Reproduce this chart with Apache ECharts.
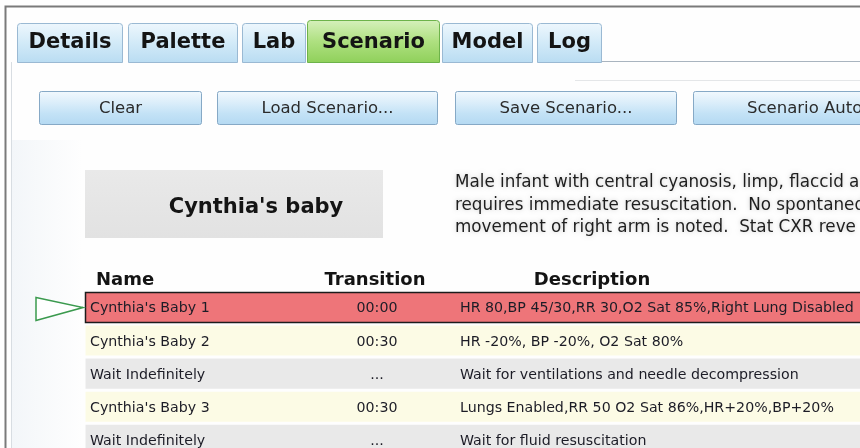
<!DOCTYPE html>
<html><head><meta charset="utf-8">
<script src="https://cdn.jsdelivr.net/npm/echarts@6/dist/echarts.min.js"></script>
<style>html,body{margin:0;padding:0;background:#fff}#c{width:860px;height:448px}</style>
</head><body><div id="c"></div>
<script>
// ---- content data ----
const tabLabels = ['Details', 'Palette', 'Lab', 'Scenario', 'Model', 'Log'];
const activeTab = 'Scenario';
const buttonLabels = ['Clear', 'Load Scenario...', 'Save Scenario...', 'Scenario Auto'];
const scenarioTitle = "Cynthia's baby";
const scenarioDescription = [
  'Male infant with central cyanosis, limp, flaccid a',
  'requires immediate resuscitation.  No spontaned',
  'movement of right arm is noted.  Stat CXR reve'
];
const columnHeaders = ['Name', 'Transition', 'Description'];
const stepNames = ["Cynthia's Baby 1", "Cynthia's Baby 2", 'Wait Indefinitely', "Cynthia's Baby 3", 'Wait Indefinitely'];
const stepTransitions = ['00:00', '00:30', '...', '00:30', '...'];
const stepDescriptions = [
  'HR 80,BP 45/30,RR 30,O2 Sat 85%,Right Lung Disabled',
  'HR -20%, BP -20%, O2 Sat 80%',
  'Wait for ventilations and needle decompression',
  'Lungs Enabled,RR 50 O2 Sat 86%,HR+20%,BP+20%',
  'Wait for fluid resuscitation'
];
const currentStep = 0;

// ---- layout (positions / styles only) ----
const tabSpans = [[17, 123], [128, 238], [242, 306], [307, 440], [442, 533], [537, 602]];
const buttonSpans = [[39, 202], [217, 438], [455, 677], [693, 900]];
const FONT = '"DejaVu Sans", Verdana, sans-serif';
const colName = 5, colTrans = 292, colDesc = 375;

const chart = echarts.init(document.getElementById('c'), null, {renderer: 'canvas'});

const lg = (stops) => new echarts.graphic.LinearGradient(0, 0, 0, 1, stops.map((c, i) => ({offset: i / (stops.length - 1), color: c})));

const graphics = [];
graphics.push({type: 'rect', shape: {x: 0, y: 0, width: 860, height: 448}, style: {fill: '#fefefe'}, z: -10, silent: true});
graphics.push({type: 'polyline', shape: {points: [[5.5, 448], [5.5, 6.5], [860, 6.5]]}, style: {stroke: '#7a7a7a', lineWidth: 2, fill: null}, z: 1});
graphics.push({type: 'line', shape: {x1: 11.5, y1: 62, x2: 11.5, y2: 448}, style: {stroke: '#d8dde2', lineWidth: 1}});
graphics.push({type: 'line', shape: {x1: 602, y1: 61.5, x2: 860, y2: 61.5}, style: {stroke: '#a9b4bf', lineWidth: 1}});
graphics.push({type: 'line', shape: {x1: 575, y1: 80.5, x2: 860, y2: 80.5}, style: {stroke: '#e4e6e8', lineWidth: 1}});
graphics.push({type: 'rect', shape: {x: 12, y: 140, width: 70, height: 308}, style: {fill: new echarts.graphic.LinearGradient(0, 0, 1, 0, [{offset: 0, color: '#f3f6f9'}, {offset: 1, color: '#fefefe'}])}, z: -5});

// tabs
tabLabels.forEach((t, i) => {
  const [a, b] = tabSpans[i];
  const active = t === activeTab;
  const top = active ? 20 : 23;
  graphics.push({
    type: 'rect', shape: {x: a + 0.5, y: top + 0.5, width: b - a - 1, height: 62 - top, r: [3, 3, 0, 0]},
    style: {
      fill: active ? lg(['#d6f0bc', '#aee080', '#8fd05a']) : lg(['#eef7fd', '#d2eaf8', '#b9dcf2']),
      stroke: active ? '#6db34a' : '#9ab9d3', lineWidth: 1
    }
  });
  graphics.push({
    type: 'text', x: (a + b) / 2, y: 43,
    style: {text: t, font: 'bold 21px ' + FONT, fill: '#141414', align: 'center', verticalAlign: 'middle'}
  });
});

// buttons
buttonLabels.forEach((t, i) => {
  const [a, b] = buttonSpans[i];
  graphics.push({
    type: 'rect', shape: {x: a + 0.5, y: 91.5, width: b - a - 1, height: 33, r: 2},
    style: {fill: lg(['#f2f9fe', '#dceefa', '#c3e2f6', '#b4d9f2']), stroke: '#86a9c6', lineWidth: 1}
  });
  const last = i === buttonLabels.length - 1;
  graphics.push({
    type: 'text', x: last ? 747 : (a + b) / 2, y: 109,
    style: {text: t, font: '16.5px ' + FONT, fill: '#2b2b2b', align: last ? 'left' : 'center', verticalAlign: 'middle'}
  });
});

// title box
graphics.push({type: 'rect', shape: {x: 85, y: 170, width: 298, height: 68}, style: {fill: lg(['#e9e9e9', '#e2e2e2'])}});
graphics.push({type: 'text', x: 256, y: 208, style: {text: scenarioTitle, font: 'bold 21px ' + FONT, fill: '#141414', align: 'center', verticalAlign: 'middle'}});

// description lines
scenarioDescription.forEach((l, i) => {
  graphics.push({type: 'text', x: 455, y: 183 + i * 22.5, style: {text: l, font: '16.8px ' + FONT, fill: '#1e1e1e', align: 'left', verticalAlign: 'middle', textShadowColor: 'rgba(0,0,0,0.2)', textShadowBlur: 4}});
});

// column headers
const gridLeft = 85;
const headerX = [96, 375, 592];
const headerAlign = ['left', 'center', 'center'];
columnHeaders.forEach((h, i) => {
  graphics.push({type: 'text', x: headerX[i], y: 280, style: {text: h, font: 'bold 18px ' + FONT, fill: '#141414', align: headerAlign[i], verticalAlign: 'middle'}});
});

const rows = stepNames.map((n, i) => [0, i]);

function renderRow(params, api) {
  const i = api.value(1);
  const c = api.coord([0, i]);
  const band = api.size([0, 1])[1];
  const cs = params.coordSys;
  const x0 = cs.x, w = cs.width;
  const cy = c[1];
  const cur = i === currentStep;
  const h = cur ? 30 : band - 3;
  const ty = cy + (cur ? 0.5 : 1.5);
  const children = [];
  children.push({
    type: 'rect', shape: {x: x0 + 0.5, y: cy - h / 2, width: w + 10, height: h},
    style: cur ? {fill: '#ee7579', stroke: '#1c1c1c', lineWidth: 1.5}
               : {fill: i % 2 === 1 ? '#fcfbe5' : '#e9e9e9'}
  });
  const ts = {font: '14.2px ' + FONT, fill: '#1c1c26', verticalAlign: 'middle'};
  children.push({type: 'text', x: x0 + colName, y: ty, style: Object.assign({text: stepNames[i], align: 'left'}, ts)});
  children.push({type: 'text', x: x0 + colTrans, y: ty, style: Object.assign({text: stepTransitions[i], align: 'center'}, ts)});
  children.push({type: 'text', x: x0 + colDesc, y: ty, style: Object.assign({text: stepDescriptions[i], align: 'left'}, ts)});
  if (cur) {
    children.push({type: 'polygon', shape: {points: [[x0 - 49, cy - 10], [x0 - 2, cy], [x0 - 49, cy + 13]]}, style: {fill: '#ffffff', stroke: '#3b9a4e', lineWidth: 1.5}});
  }
  return {type: 'group', children};
}

chart.setOption({
  animation: false,
  grid: {left: gridLeft, right: 0, top: 291, bottom: 0, containLabel: false},
  xAxis: {type: 'value', min: 0, max: 1, show: false},
  yAxis: {type: 'value', min: -0.5, max: 4.25, inverse: true, show: false},
  graphic: graphics,
  series: [{type: 'custom', renderItem: renderRow, data: rows, clip: false, z: 5}]
});
</script></body></html>
